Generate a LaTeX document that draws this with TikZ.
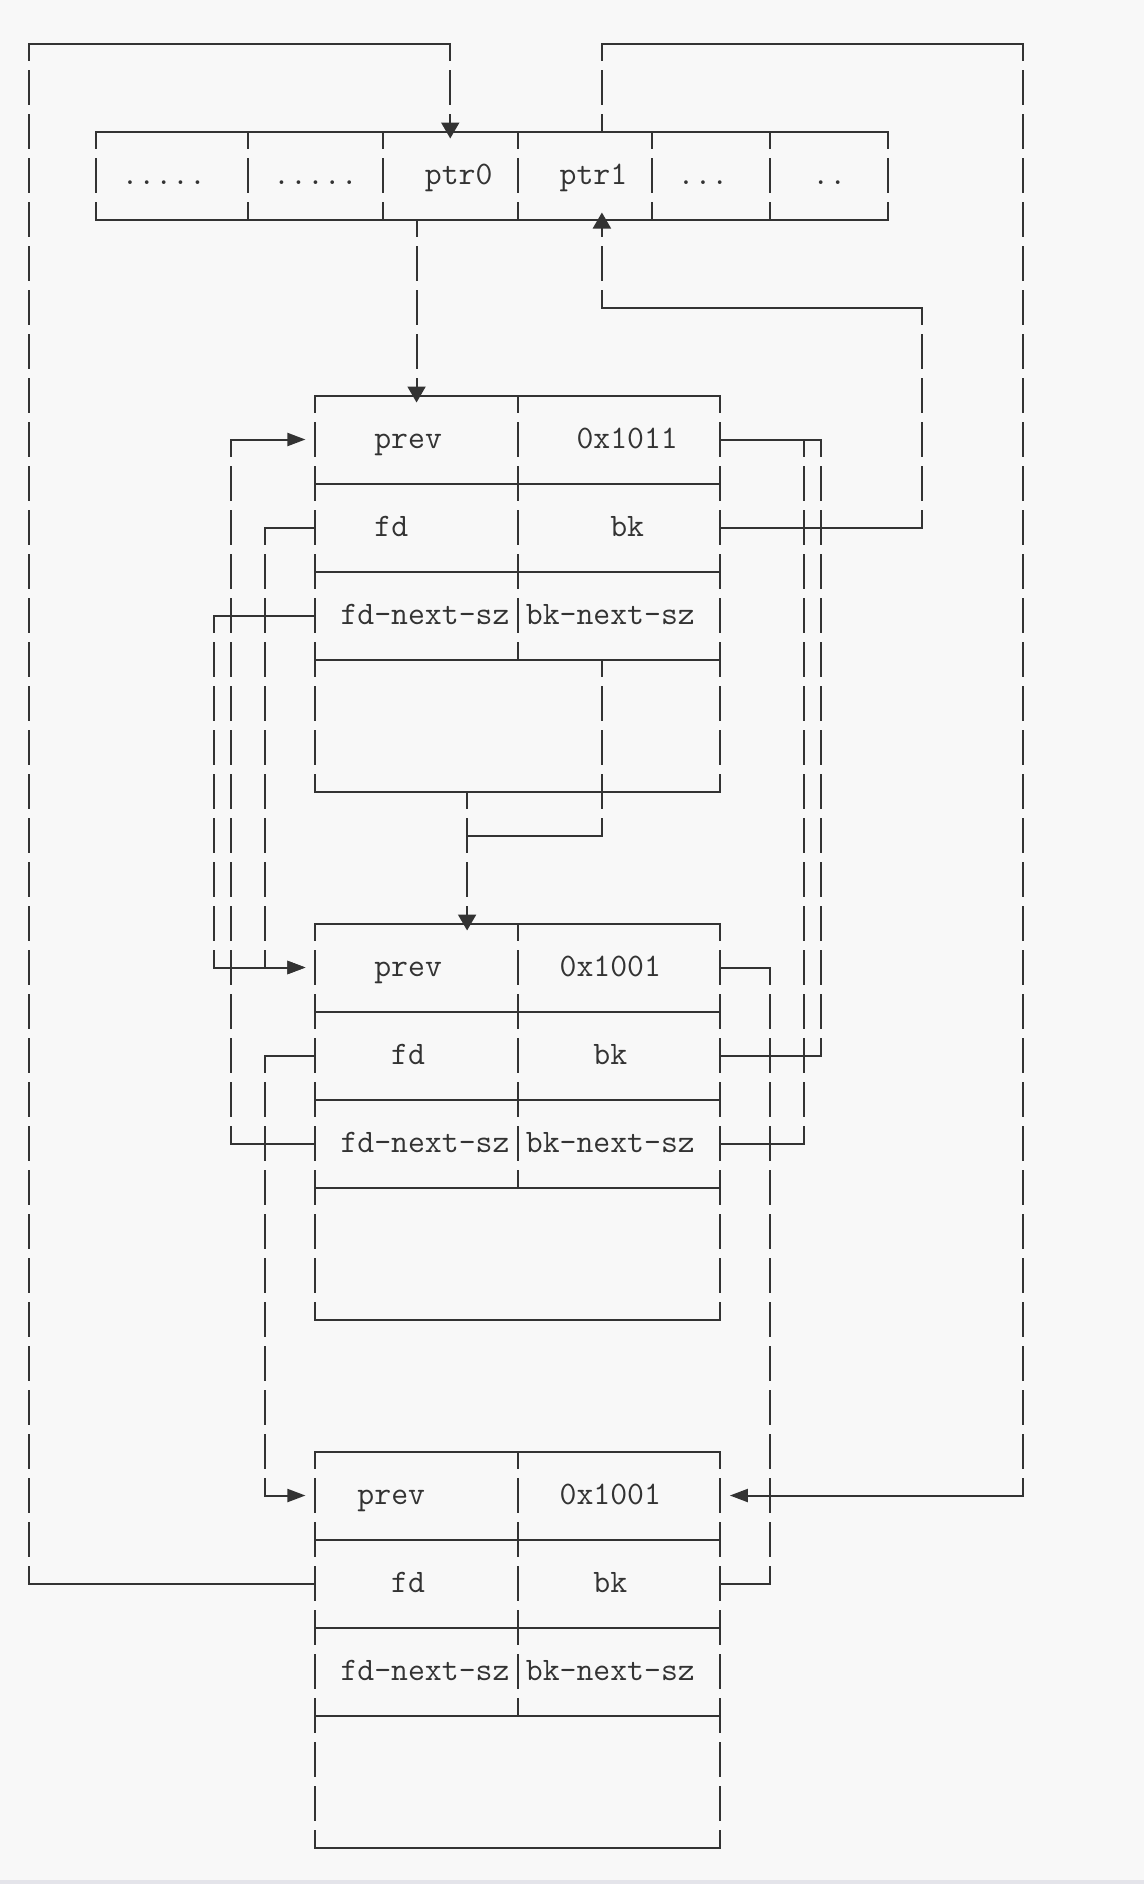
\documentclass[tikz,border=0pt]{standalone}
\usepackage{tikz}
\usetikzlibrary{arrows.meta,positioning}

\definecolor{paper}{HTML}{F8F8F8}
\definecolor{ink}{HTML}{333333}
\definecolor{rim}{HTML}{E4E4EA}

\tikzset{
  box/.style={draw, inner sep=0pt, minimum width=202.2pt, minimum height=198pt},
  txt/.style={font=\fontsize{16.4}{18}\selectfont\ttfamily, inner sep=0pt,
    text height=10pt, text depth=1.5pt, minimum height=44pt},
  htip/.style={-{Triangle[length=9pt,width=6.5pt]}, shorten >=4.5pt},
  vtip/.style={-{Triangle[length=8pt,width=9pt]}, shorten >=-4pt},
}

\begin{document}
\begin{tikzpicture}[x=8.425pt, y=-22pt, line width=1pt, color=ink]
      \fill[paper] (-1.7211,-0.9886) rectangle (66.1721,41.8295);
      \fill[rim] (-1.7211,41.7386) rectangle (66.1721,41.8295);

      % Bin array
      \node[box, minimum width=395.975pt, minimum height=44pt] (bin) at (27.5,3) {};
      \draw (13,2) -- (13,4) (21,2) -- (21,4) (29,2) -- (29,4) (37,2) -- (37,4) (44,2) -- (44,4);
      \node[txt] (dots1) at (8,3) {.....};
      \node[txt] (dots2) at (17,3) {.....};
      \node[txt] (ptr0) at (25.5,3) {ptr0};
      \node[txt] (ptr1) at (33.5,3) {ptr1};
      \node[txt] (dots3) at (40,3) {...};
      \node[txt] (dots4) at (47.5,3) {..};

      % Chunk 1
      \node[box] (c1) at (29,12.5) {};
      \draw (29,8) -- (29,14) (17,10) -- (41,10) (17,12) -- (41,12) (17,14) -- (41,14);
      \node[txt] (c1prev) at (22.5,9) {prev};
      \node[txt] (c1size) at (35.5,9) {0x1011};
      \node[txt] (c1fd) at (21.5,11) {fd};
      \node[txt] (c1bk) at (35.5,11) {bk};
      \node[txt] (c1fdn) at (23.5,13) {fd\textendash next\textendash sz};
      \node[txt] (c1bkn) at (34.5,13) {bk-next-sz};

      % Chunk 2
      \node[box] (c2) at (29,24.5) {};
      \draw (29,20) -- (29,26) (17,22) -- (41,22) (17,24) -- (41,24) (17,26) -- (41,26);
      \node[txt] (c2prev) at (22.5,21) {prev};
      \node[txt] (c2size) at (34.5,21) {0x1001};
      \node[txt] (c2fd) at (22.5,23) {fd};
      \node[txt] (c2bk) at (34.5,23) {bk};
      \node[txt] (c2fdn) at (23.5,25) {fd-next-sz};
      \node[txt] (c2bkn) at (34.5,25) {bk-next-sz};

      % Chunk 3
      \node[box] (c3) at (29,36.5) {};
      \draw (29,32) -- (29,38) (17,34) -- (41,34) (17,36) -- (41,36) (17,38) -- (41,38);
      \node[txt] (c3prev) at (21.5,33) {prev};
      \node[txt] (c3size) at (34.5,33) {0x1001};
      \node[txt] (c3fd) at (22.5,35) {fd};
      \node[txt] (c3bk) at (34.5,35) {bk};
      \node[txt] (c3fdn) at (23.5,37) {fd-next-sz};
      \node[txt] (c3bkn) at (34.5,37) {bk-next-sz};

      % Bin pointers
      \draw[vtip] (c3fd -| c3.west) -| (0,0) -| (bin.north -| 25,0);
      \draw[htip] (bin.north -| 34,0) |- (59,0) |- (c3size -| c3.east);
      \draw[vtip] (bin.south -| 23,0) -- (c1.north -| 23,0);
      \draw[vtip] (c1bk -| c1.east) -| (53,6) -| (bin.south -| 34,0);

      % Chunk 1 to chunk 2
      \draw[vtip] (c1.south -| 26,0) -- (c2.north -| 26,0);
      \draw (c1bkn.south -| 34,0) |- (26,18);

      % Left links
      \draw[htip] (c2fdn -| c2.west) -| (12,9) -- (c1prev -| c1.west);
      \draw[htip] (c1fd -| c1.west) -| (14,21) -- (c2prev -| c2.west);
      \draw[htip] (c1fdn -| c1.west) -| (11,21) -- (c2prev -| c2.west);
      \draw[htip] (c2fd -| c2.west) -| (14,33) -- (c3prev -| c3.west);

      % Right links
      \draw (c1size -| c1.east) -| (47,23) -- (c2bk -| c2.east);
      \draw (c1size -| c1.east) -| (46,25) -- (c2bkn -| c2.east);
      \draw (c2size -| c2.east) -| (44,35) -- (c3bk -| c3.east);

      % Gaps between the text lines
      \foreach \k in {0,...,40}
        \fill[paper] (-1.7211,\k+0.398) rectangle (66.1721,\k+0.602);
    \end{tikzpicture}
\end{document}
